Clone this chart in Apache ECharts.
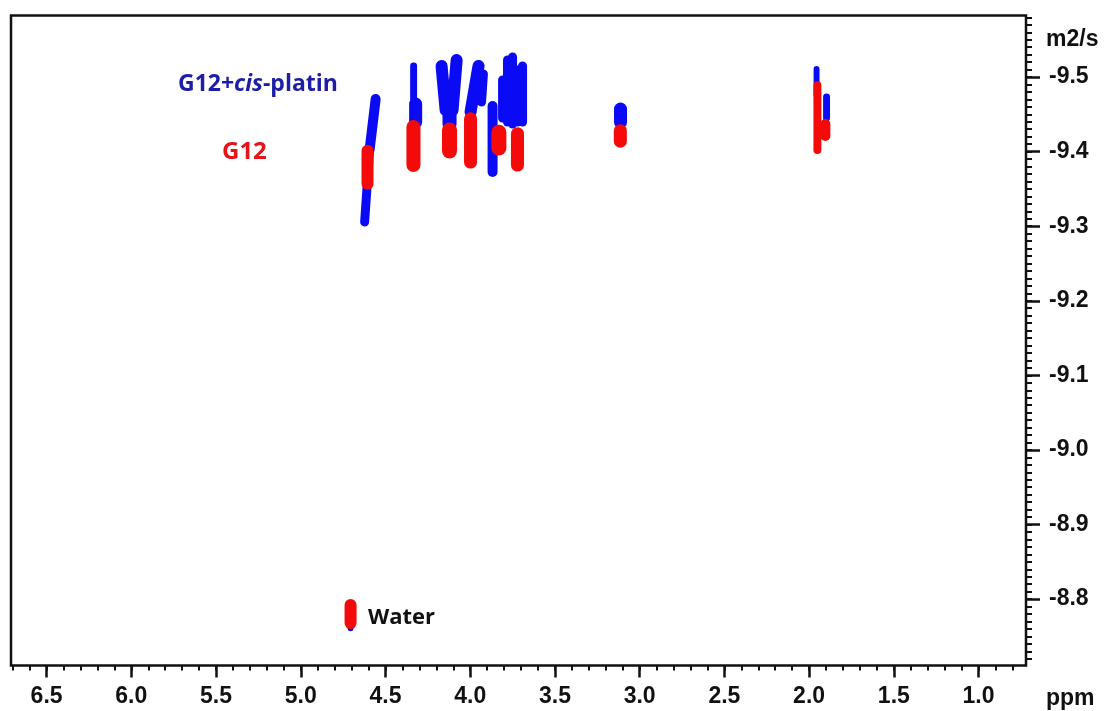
<!DOCTYPE html>
<html>
<head>
<meta charset="utf-8">
<script src="https://cdn.jsdelivr.net/npm/echarts@6/dist/echarts.min.js"></script>
<style>
html,body{margin:0;padding:0;background:#fff;}
#chart{width:1107px;height:711px;}
</style>
</head>
<body>
<div id="chart"></div>
<script>
// Axis tick labels
const xMajorTicks = [6.5, 6.0, 5.5, 5.0, 4.5, 4.0, 3.5, 3.0, 2.5, 2.0, 1.5, 1.0];
const yMajorTicks = [-9.5, -9.4, -9.3, -9.2, -9.1, -9.0, -8.9, -8.8];

// Contour streaks: [ppmStart, logDStart, ppmEnd, logDEnd, peakWidthPpm]
const blueContours = [
  [4.558, -9.4705, 4.594, -9.4021, 0.059],
  [4.594, -9.4021, 4.623, -9.3056, 0.053],
  [4.334, -9.5148, 4.334, -9.4584, 0.041],
  [4.322, -9.4638, 4.322, -9.4397, 0.077],
  [4.169, -9.5148, 4.145, -9.4557, 0.071],
  [4.080, -9.5228, 4.104, -9.4557, 0.071],
  [4.122, -9.4826, 4.122, -9.4370, 0.083],
  [3.951, -9.5148, 3.998, -9.4531, 0.071],
  [3.922, -9.5040, 3.933, -9.4665, 0.053],
  [3.868, -9.4611, 3.868, -9.3726, 0.059],
  [3.809, -9.4960, 3.809, -9.4450, 0.053],
  [3.780, -9.5228, 3.780, -9.4397, 0.053],
  [3.750, -9.5268, 3.750, -9.4370, 0.053],
  [3.720, -9.5094, 3.720, -9.4397, 0.053],
  [3.691, -9.5148, 3.691, -9.4397, 0.053],
  [3.113, -9.4571, 3.113, -9.4397, 0.077],
  [1.956, -9.5107, 1.956, -9.4759, 0.035],
  [1.897, -9.4732, 1.897, -9.4450, 0.041],
  [4.706, -8.769, 4.706, -8.761, 0.035]
];
const redContours = [
  [4.606, -9.401, 4.606, -9.357, 0.071],
  [4.335, -9.433, 4.335, -9.382, 0.083],
  [4.122, -9.429, 4.122, -9.401, 0.089],
  [3.998, -9.444, 3.998, -9.386, 0.077],
  [3.831, -9.426, 3.831, -9.405, 0.089],
  [3.721, -9.424, 3.721, -9.382, 0.077],
  [3.114, -9.428, 3.114, -9.414, 0.077],
  [1.951, -9.489, 1.951, -9.402, 0.047],
  [1.904, -9.437, 1.904, -9.421, 0.059],
  [4.706, -8.792, 4.706, -8.768, 0.071]
];

const xMin = 0.72, xMax = 6.71;
const yMin = -9.5825, yMax = -8.711;

const xMinorTicks = [];
for (let i = 8; i <= 67; i++) xMinorTicks.push(+(i / 10).toFixed(1));
const yMinorTicks = [];
for (let i = -958; i <= -872; i++) yMinorTicks.push(+(i / 100).toFixed(2));

const chart = echarts.init(document.getElementById('chart'));

function streakRenderer(color) {
  return function (params, api) {
    const p1 = api.coord([api.value(0), api.value(1)]);
    const p2 = api.coord([api.value(2), api.value(3)]);
    const w = Math.abs(api.size([api.value(4), 0])[0]);
    return {
      type: 'line',
      shape: { x1: p1[0], y1: p1[1], x2: p2[0], y2: p2[1] },
      style: { stroke: color, lineWidth: w, lineCap: 'round', fill: null }
    };
  };
}

const labelFont = { fontFamily: '"Liberation Sans", Arial, sans-serif', fontWeight: 'bold', color: '#111' };

chart.setOption({
  animation: false,
  backgroundColor: '#fff',
  grid: { left: 11, right: 81, top: 15.5, bottom: 45.5, show: true, borderColor: '#111', borderWidth: 2.5, backgroundColor: 'transparent' },
  xAxis: [
    {
      type: 'value', min: xMin, max: xMax, inverse: true, position: 'bottom',
      axisLine: { show: false }, splitLine: { show: false },
      axisTick: { show: true, customValues: xMajorTicks, length: 12, lineStyle: { color: '#111', width: 2.5 } },
      axisLabel: Object.assign({ customValues: xMajorTicks, fontSize: 23, margin: 20, formatter: v => v.toFixed(1) }, labelFont)
    },
    {
      type: 'value', min: xMin, max: xMax, inverse: true, position: 'bottom',
      axisLine: { show: false }, splitLine: { show: false },
      axisTick: { show: true, customValues: xMinorTicks, length: 5, lineStyle: { color: '#111', width: 2 } },
      axisLabel: { show: false }
    }
  ],
  yAxis: [
    {
      type: 'value', min: yMin, max: yMax, inverse: true, position: 'right',
      axisLine: { show: false }, splitLine: { show: false },
      axisTick: { show: true, customValues: yMajorTicks, length: 14, lineStyle: { color: '#111', width: 2.5 } },
      axisLabel: Object.assign({ customValues: yMajorTicks, fontSize: 23, margin: 23, padding: [8, 0, 0, 0], formatter: v => v.toFixed(1) }, labelFont)
    },
    {
      type: 'value', min: yMin, max: yMax, inverse: true, position: 'right',
      axisLine: { show: false }, splitLine: { show: false },
      axisTick: { show: true, customValues: yMinorTicks, length: 6, lineStyle: { color: '#111', width: 2 } },
      axisLabel: { show: false }
    }
  ],
  series: [
    { name: 'G12+cis-platin', type: 'custom', xAxisIndex: 0, yAxisIndex: 0, renderItem: streakRenderer('#0a0af5'), data: blueContours, z: 2 },
    { name: 'G12', type: 'custom', xAxisIndex: 0, yAxisIndex: 0, renderItem: streakRenderer('#f50a0a'), data: redContours, z: 3 }
  ],
  graphic: [
    { type: 'text', z: 10, style: { x: 1046, y: 40, text: 'm2/s', fill: '#111', font: 'bold 23px "Liberation Sans", Arial, sans-serif', verticalAlign: 'middle' } },
    { type: 'text', z: 10, style: { x: 1046, y: 699, text: 'ppm', fill: '#111', font: 'bold 23px "Liberation Sans", Arial, sans-serif', verticalAlign: 'middle' } },
    { type: 'text', z: 10, style: {
        x: 178, y: 84, verticalAlign: 'middle',
        text: '{b|G12+}{i|cis}{b|-platin}',
        rich: {
          b: { fill: '#1d1da8', fontFamily: 'Open Sans', fontWeight: 'bold', fontSize: 23 },
          i: { fill: '#1d1da8', fontFamily: 'Open Sans', fontWeight: 'bold', fontStyle: 'italic', fontSize: 23 }
        }
    } },
    { type: 'text', z: 10, style: { x: 222, y: 152, text: 'G12', fill: '#e3141a', font: 'bold 24px "Open Sans", sans-serif', verticalAlign: 'middle' } },
    { type: 'text', z: 10, style: { x: 368, y: 618, text: 'Water', fill: '#111', font: 'bold 22px "Open Sans", sans-serif', verticalAlign: 'middle' } }
  ]
});
</script>
</body>
</html>
